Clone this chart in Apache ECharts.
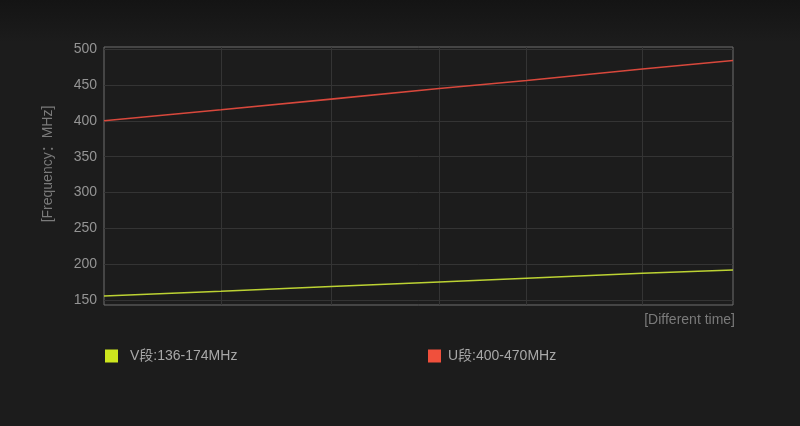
<!DOCTYPE html>
<html>
<head>
<meta charset="utf-8">
<script src="https://cdn.jsdelivr.net/npm/echarts@6/dist/echarts.min.js"></script>
<style>
html,body{margin:0;padding:0;background:#1c1c1c;}
#c{width:800px;height:426px;}
</style>
</head>
<body>
<div id="c"></div>
<script>
var timePoints = [0, 18.6, 36.1, 53.3, 67.2, 85.6, 100];
var timeGridTicks = [18.6, 36.1, 53.3, 67.2, 85.6];
var vBand = [155.6, 162.1, 168.8, 175.1, 180.3, 187.3, 191.9];
var uBand = [400, 415.4, 430.3, 445.1, 456.3, 472.2, 484.2];
var freqTicks = [150, 200, 250, 300, 350, 400, 450, 500];
var vName = 'V段:136-174MHz';
var uName = 'U段:400-470MHz';

function pairs(xs, ys){ return xs.map(function(x,i){ return [x, ys[i]]; }); }

var font = "'Liberation Sans','Noto Sans CJK SC',sans-serif";
var chart = echarts.init(document.getElementById('c'));
chart.setOption({
  backgroundColor: {
    type: 'linear', x: 0, y: 0, x2: 0, y2: 1,
    colorStops: [{offset: 0, color: '#141414'}, {offset: 0.1, color: '#1c1c1c'}, {offset: 1, color: '#1c1c1c'}]
  },
  animation: false,
  textStyle: {fontFamily: font},
  grid: {left: 104, right: 67, top: 47, bottom: 121, show: true, borderColor: '#6e6e6e', borderWidth: 1, backgroundColor: 'transparent'},
  legend: [
    {data: [vName], left: 100, top: 344, icon: 'rect', itemWidth: 13, itemHeight: 13,
     textStyle: {color: '#a8a8a8', fontSize: 14, fontFamily: font, padding: [0,0,0,7]}},
    {data: [uName], left: 423, top: 344, icon: 'rect', itemWidth: 13, itemHeight: 13,
     textStyle: {color: '#a8a8a8', fontSize: 14, fontFamily: font, padding: [0,0,0,2]}}
  ],
  xAxis: {
    type: 'value', min: 0, max: 100,
    name: '[Different time]', nameLocation: 'end', nameGap: 2,
    nameTextStyle: {color: '#7a7a7a', fontSize: 14, fontFamily: font, align: 'right', verticalAlign: 'top', padding: [8, 0, 0, 0]},
    axisLine: {show: false}, axisTick: {show: false, customValues: timeGridTicks},
    axisLabel: {show: false, customValues: timeGridTicks},
    splitLine: {show: true, lineStyle: {color: '#343434', width: 1}}
  },
  yAxis: {
    type: 'value', min: 143, max: 503,
    name: '[Frequency：MHz]', nameLocation: 'middle', nameRotate: 90, nameGap: 49,
    nameTextStyle: {color: '#7a7a7a', fontSize: 14, fontFamily: font, padding: [0, 0, 0, 24]},
    axisLine: {show: false}, axisTick: {show: false, customValues: freqTicks},
    axisLabel: {color: '#949494', fontSize: 14, fontFamily: font, margin: 7, customValues: freqTicks},
    splitLine: {show: true, lineStyle: {color: '#343434', width: 1}}
  },
  series: [
    {name: vName, type: 'line', data: pairs(timePoints, vBand), showSymbol: false, smooth: false,
     itemStyle: {color: '#cde61e'}, lineStyle: {color: '#bcd233', width: 1.6}},
    {name: uName, type: 'line', data: pairs(timePoints, uBand), showSymbol: false, smooth: false,
     itemStyle: {color: '#f0503c'}, lineStyle: {color: '#d8483c', width: 1.6}}
  ]
});
</script>
</body>
</html>
